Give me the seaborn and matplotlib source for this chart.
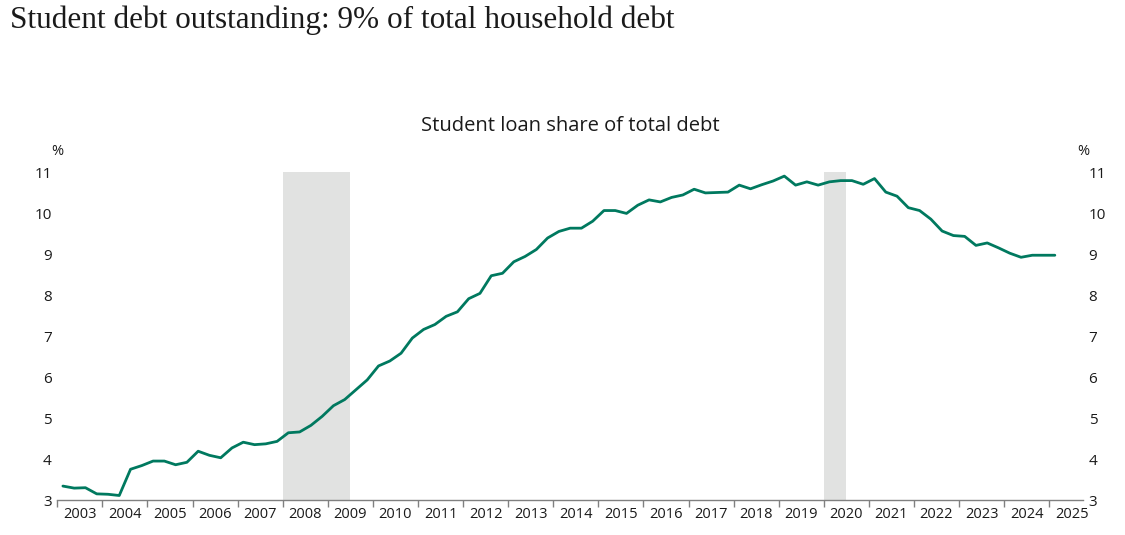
import numpy as np
import pandas as pd
import matplotlib
matplotlib.use("Agg")
import matplotlib.pyplot as plt
import seaborn as sns

# Student loan share of total household debt, %, quarterly from 2003Q1
share = [
    3.34, 3.29, 3.30, 3.15, 3.14, 3.11, 3.75, 3.84, 3.95, 3.95,
    3.86, 3.92, 4.19, 4.09, 4.03, 4.27, 4.41, 4.35, 4.37, 4.43,
    4.64, 4.66, 4.82, 5.04, 5.30, 5.45, 5.69, 5.93, 6.27, 6.39,
    6.58, 6.95, 7.16, 7.28, 7.48, 7.59, 7.91, 8.04, 8.47, 8.53,
    8.81, 8.94, 9.11, 9.39, 9.55, 9.63, 9.63, 9.80, 10.06, 10.06,
    9.99, 10.19, 10.32, 10.27, 10.38, 10.44, 10.58, 10.49, 10.50, 10.51,
    10.68, 10.59, 10.69, 10.78, 10.90, 10.68, 10.76, 10.68, 10.76, 10.79,
    10.79, 10.70, 10.84, 10.51, 10.41, 10.13, 10.06, 9.85, 9.56, 9.45,
    9.43, 9.21, 9.27, 9.15, 9.02, 8.92, 8.97, 8.97, 8.97,
]
start_quarter = "2003Q1"
recessions = [(2008.0, 2009.5), (2020.0, 2020.5)]
years = list(range(2003, 2026))
y_ticks = [3, 4, 5, 6, 7, 8, 9, 10, 11]

title = "Student debt outstanding: 9% of total household debt"
chart_title = "Student loan share of total debt"
line_color = "#00795F"
shade_color = "#E1E2E1"

quarters = pd.period_range(start_quarter, periods=len(share), freq="Q")
df = pd.DataFrame({
    "date": quarters.year + (quarters.quarter - 0.5) / 4,
    "share": share,
})

sns.set_style("white")
plt.rcParams["font.family"] = ["Open Sans", "DejaVu Sans"]

fig = plt.figure(figsize=(11.25, 5.35), dpi=100)
ax = fig.add_axes([0.0509, 0.0654, 0.9118, 0.6131])

for x0, x1 in recessions:
    ax.axvspan(x0, x1, color=shade_color, lw=0, zorder=0)

sns.lineplot(data=df, x="date", y="share", ax=ax, color=line_color, lw=2)

ax.set_xlim(2003, 2025.75)
ax.set_ylim(3, 11)
ax.set_xticks(years)
ax.set_xticklabels([])
ax.set_xticks([y + 0.5 for y in years], minor=True)
ax.set_xticklabels([str(y) for y in years], minor=True)
ax.set_yticks(y_ticks)
ax.set_yticklabels([str(v) for v in y_ticks])

ax.tick_params(axis="x", which="major", direction="out", length=5, width=1,
               color="#808080", bottom=True)
ax.tick_params(axis="x", which="minor", length=0, pad=5, labelsize=10.5,
               labelcolor="#1a1a1a")
ax.tick_params(axis="y", length=0, pad=4, labelsize=11, labelcolor="#1a1a1a",
               labelleft=True, labelright=True)

for side in ["top", "left", "right"]:
    ax.spines[side].set_visible(False)
ax.spines["bottom"].set_color("#808080")
ax.spines["bottom"].set_linewidth(1)
ax.set_xlabel("")
ax.set_ylabel("")

ax.text(0.0, 1.04, "%", transform=ax.transAxes, ha="center", va="bottom",
        fontsize=10.5, color="#1a1a1a")
ax.text(1.0, 1.04, "%", transform=ax.transAxes, ha="center", va="bottom",
        fontsize=10.5, color="#1a1a1a")

fig.text(0.507, 0.764, chart_title, ha="center", va="center", fontsize=14.5,
         color="#1a1a1a")
fig.text(0.009, 0.962, title, ha="left", va="center", fontsize=22.5,
         family=["Liberation Serif", "DejaVu Serif"], color="#1a1a1a")

fig.savefig("out.png", dpi=100, facecolor="white")
